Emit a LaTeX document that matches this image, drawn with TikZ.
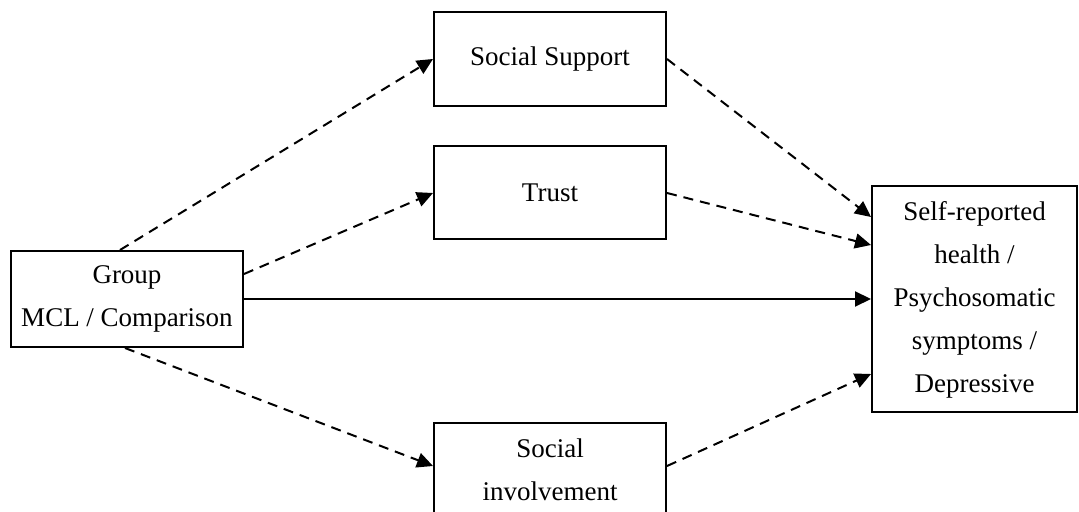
\documentclass[tikz,border=0pt]{standalone}
\usepackage{fontspec}
\setmainfont{Liberation Serif}
\usepackage{tikz}
\usetikzlibrary{
  arrows.meta,
  positioning}
\tikzset{every picture/.style={font issue=\fontsize{13.5pt}{21.5pt}},
         font issue/.style={execute at begin picture={#1\selectfont}}
        }

\begin{document}
\begin{tikzpicture}[x = 0.5pt, y = -0.5pt,
  box/.style = {draw, line width = 1pt, align = center, inner sep = 0pt},
  path_arrow/.style = {line width = 1pt, -{Triangle[length = 8pt, width = 7.5pt]}},
  dashed_arrow/.style = {path_arrow, dash pattern = on 5pt off 3.5pt}]
\useasboundingbox (0,0) rectangle (1079,512);
\node[box, minimum width = 116pt, minimum height = 48pt](group) at (127,299){Group\\MCL / Comparison};
\node[box, minimum width = 116pt, minimum height = 47pt](social_support) at (550,59){Social Support};
\node[box, minimum width = 116pt, minimum height = 46.5pt](trust) at (550,193){Trust};
\node[box, minimum width = 116pt, minimum height = 47pt](social_involvement) at (550,470){Social\\involvement};
\node[box, minimum width = 102.5pt, minimum height = 112.5pt, text depth = 2pt](health) at (974.5,299){Self-reported\\health /\\Psychosomatic\\symptoms /\\Depressive};

\draw[dashed_arrow]([xshift = -3.5pt]group.north) -- (social_support.west);
\draw[dashed_arrow]([yshift = 12.5pt]group.east) -- (trust.west);
\draw[path_arrow](group.east) -- (health.west);
\draw[dashed_arrow]([xshift = -1pt]group.south) -- ([yshift = 2pt]social_involvement.west);

\draw[dashed_arrow](social_support.east) -- ([yshift = 41pt]health.west);
\draw[dashed_arrow](trust.east) -- ([yshift = 27pt]health.west);
\draw[dashed_arrow]([yshift = 2pt]social_involvement.east) -- ([yshift = -37.5pt]health.west);
\end{tikzpicture}
\end{document}
